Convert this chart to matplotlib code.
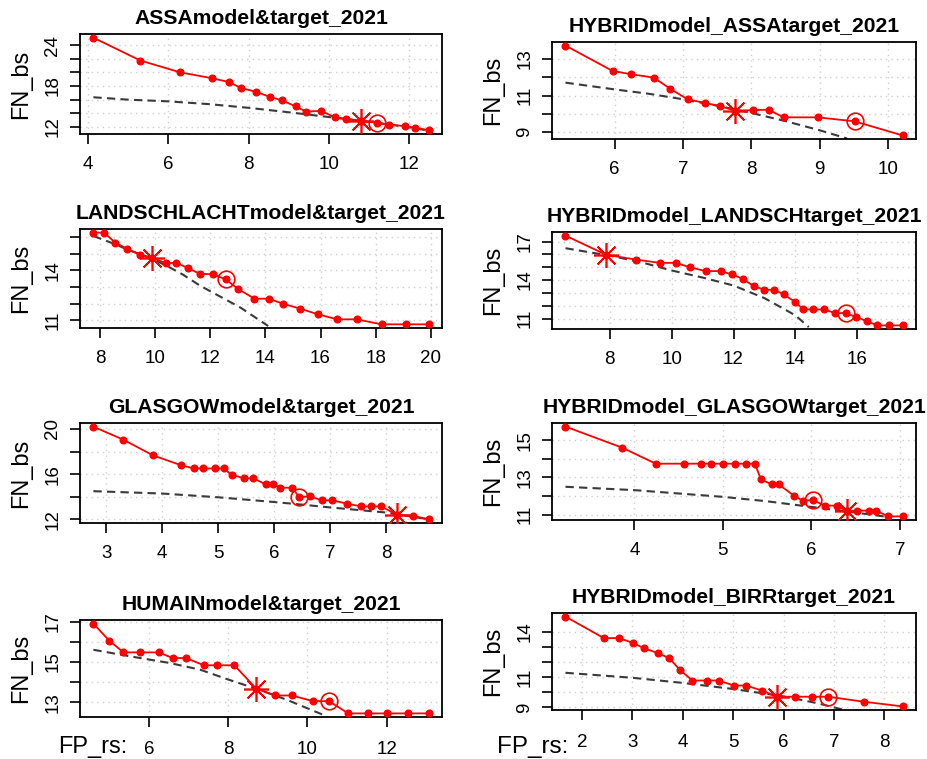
import numpy as np
import matplotlib.pyplot as plt

plt.rcParams['font.family'] = ['Liberation Sans', 'DejaVu Sans']

# ---------- data ----------
# each panel: red curve (FP_rs, FN_bs), dashed reference curve,
# index of the asterisk point and of the circled point

# ASSA model & target
assa_fp = [4.13, 5.30, 6.30, 7.09, 7.50, 7.80, 8.18, 8.54, 8.83, 9.18, 9.43, 9.81,
           10.15, 10.44, 10.80, 11.20, 11.50, 11.90, 12.15, 12.49]
assa_fn = [25.1, 21.75, 20.0, 19.15, 18.6, 17.75, 17.15, 16.4, 15.9, 15.0, 14.25, 14.35,
           13.4, 13.2, 12.9, 12.6, 12.35, 12.1, 11.9, 11.5]
assa_ref_fp = [4.13, 5.0, 6.0, 7.0, 8.0, 9.0, 10.0, 11.0, 12.0, 12.49]
assa_ref_fn = [16.35, 16.0, 15.75, 15.35, 14.8, 14.15, 13.45, 12.75, 11.95, 11.45]
assa_star, assa_circle = 14, 15
assa_xticks = [4, 6, 8, 10, 12]
assa_yticks = [12, 14, 16, 18, 20, 22, 24]
assa_ylabels = [12, 18, 24]

# HYBRID model, ASSA target
hyassa_fp = [5.28, 5.97, 6.24, 6.57, 6.81, 7.07, 7.32, 7.54, 7.76, 8.02, 8.25, 8.47,
             8.97, 9.51, 10.21]
hyassa_fn = [13.74, 12.35, 12.17, 11.99, 11.38, 10.79, 10.6, 10.42, 10.18, 10.2, 10.23,
             9.81, 9.81, 9.59, 8.82]
hyassa_ref_fp = [5.28, 6.0, 6.5, 7.0, 7.5, 8.0, 8.5, 9.0, 9.4]
hyassa_ref_fn = [11.71, 11.34, 11.1, 10.8, 10.45, 10.05, 9.6, 9.1, 8.65]
hyassa_star, hyassa_circle = 8, 13
hyassa_xticks = [6, 7, 8, 9, 10]
hyassa_yticks = [9, 10, 11, 12, 13]
hyassa_ylabels = [9, 11, 13]

# LANDSCHLACHT model & target
land_fp = [7.76, 8.15, 8.55, 8.97, 9.46, 9.90, 10.39, 10.77, 11.20, 11.61, 12.10, 12.56,
           12.99, 13.60, 14.12, 14.63, 15.26, 15.91, 16.60, 17.31, 18.22, 19.10, 19.92]
land_fn = [16.26, 16.26, 15.66, 15.3, 14.92, 14.76, 14.42, 14.46, 14.12, 13.8, 13.76, 13.46,
           12.9, 12.3, 12.3, 12.0, 11.7, 11.36, 11.06, 11.06, 10.76, 10.76, 10.76]
land_ref_fp = [7.76, 8.5, 9.0, 9.9, 10.5, 11.0, 11.65, 12.5, 13.1, 14.1]
land_ref_fn = [16.06, 15.6, 15.25, 14.7, 14.2, 13.75, 13.06, 12.3, 11.76, 10.66]
land_star, land_circle = 5, 11
land_xticks = [8, 10, 12, 14, 16, 18, 20]
land_yticks = [11, 12, 13, 14, 15, 16]
land_ylabels = [11, 14]

# HYBRID model, LANDSCH target
hyland_fp = [6.57, 7.89, 8.84, 9.62, 10.13, 10.59, 11.10, 11.59, 11.95, 12.30, 12.65, 13.00,
             13.32, 13.62, 14.00, 14.25, 14.56, 14.92, 15.28, 15.62, 15.97, 16.32, 16.65,
             17.03, 17.46]
hyland_fn = [17.46, 15.96, 15.6, 15.34, 15.34, 15.0, 14.7, 14.7, 14.44, 14.1, 13.53, 13.25,
             13.25, 12.89, 12.29, 11.72, 11.72, 11.72, 11.44, 11.44, 11.13, 10.79, 10.48,
             10.48, 10.48]
hyland_ref_fp = [6.57, 8.0, 9.0, 10.0, 11.0, 12.0, 13.0, 14.0, 14.43]
hyland_ref_fn = [16.48, 15.9, 15.4, 14.75, 14.2, 13.58, 12.6, 11.26, 10.35]
hyland_star, hyland_circle = 1, 19
hyland_xticks = [8, 10, 12, 14, 16]
hyland_yticks = [11, 12, 13, 14, 15, 16, 17]
hyland_ylabels = [11, 14, 17]

# GLASGOW model & target
glas_fp = [2.77, 3.30, 3.84, 4.33, 4.57, 4.73, 4.94, 5.10, 5.24, 5.47, 5.63, 5.85, 5.98,
           6.11, 6.32, 6.45, 6.64, 6.85, 7.03, 7.31, 7.55, 7.73, 7.91, 8.20, 8.48, 8.76]
glas_fn = [20.2, 19.06, 17.65, 16.8, 16.5, 16.5, 16.5, 16.5, 15.93, 15.63, 15.63, 15.09,
           15.09, 14.8, 14.8, 13.95, 14.04, 13.68, 13.68, 13.38, 13.14, 13.14, 13.14, 12.39,
           12.3, 12.0]
glas_ref_fp = [2.77, 4.0, 5.0, 6.0, 6.5, 7.0, 8.0, 8.76]
glas_ref_fn = [14.49, 14.28, 13.95, 13.53, 13.3, 13.05, 12.6, 12.0]
glas_star, glas_circle = 23, 15
glas_xticks = [3, 4, 5, 6, 7, 8, 9]
glas_yticks = [12, 14, 16, 18, 20]
glas_ylabels = [12, 16, 20]

# HYBRID model, GLASGOW target
hyglas_fp = [3.22, 3.86, 4.24, 4.56, 4.75, 4.87, 5.00, 5.14, 5.26, 5.36, 5.43, 5.55, 5.63,
             5.80, 5.90, 6.02, 6.15, 6.29, 6.40, 6.52, 6.65, 6.73, 6.87, 7.03]
hyglas_fn = [15.73, 14.6, 13.74, 13.74, 13.74, 13.74, 13.74, 13.74, 13.74, 13.74, 12.9,
             12.63, 12.63, 12.03, 11.76, 11.78, 11.49, 11.49, 11.18, 11.22, 11.22, 11.22,
             10.91, 10.91]
hyglas_ref_fp = [3.22, 4.0, 5.0, 5.5, 6.0, 6.4, 6.88]
hyglas_ref_fn = [12.5, 12.32, 11.96, 11.72, 11.42, 11.18, 10.87]
hyglas_star, hyglas_circle = 18, 15
hyglas_xticks = [4, 5, 6, 7]
hyglas_yticks = [11, 12, 13, 14, 15]
hyglas_ylabels = [11, 13, 15]

# HUMAIN model & target
hum_fp = [4.59, 4.99, 5.35, 5.76, 6.24, 6.59, 6.93, 7.38, 7.71, 8.15, 8.71, 9.19, 9.60,
          10.14, 10.54, 11.03, 11.52, 12.02, 12.53, 13.06]
hum_fn = [16.9, 16.05, 15.47, 15.47, 15.47, 15.19, 15.19, 14.83, 14.83, 14.83, 13.66, 13.33,
          13.33, 13.05, 13.05, 12.44, 12.44, 12.44, 12.44, 12.44]
hum_ref_fp = [4.59, 5.5, 6.5, 7.29, 8.0, 8.71, 9.5, 10.42]
hum_ref_fn = [15.6, 15.28, 14.95, 14.61, 14.12, 13.66, 13.1, 12.35]
hum_star, hum_circle = 10, 14
hum_xticks = [6, 8, 10, 12]
hum_yticks = [13, 14, 15, 16, 17]
hum_ylabels = [13, 15, 17]

# HYBRID model, BIRR target
birr_fp = [1.67, 2.43, 2.74, 3.02, 3.23, 3.51, 3.73, 3.95, 4.19, 4.47, 4.71, 5.01, 5.25,
           5.58, 5.86, 6.22, 6.56, 6.88, 7.59, 8.36]
birr_fn = [15.0, 13.58, 13.58, 13.24, 12.91, 12.58, 12.25, 11.45, 10.78, 10.78, 10.78,
           10.45, 10.45, 10.11, 9.71, 9.71, 9.71, 9.71, 9.38, 9.07]
birr_ref_fp = [1.67, 3.0, 4.0, 5.0, 6.0, 6.66, 7.2]
birr_ref_fn = [11.29, 10.96, 10.62, 10.22, 9.73, 9.29, 8.84]
birr_star, birr_circle = 14, 17
birr_xticks = [2, 3, 4, 5, 6, 7, 8]
birr_yticks = [9, 10, 11, 12, 13, 14]
birr_ylabels = [9, 11, 14]

titles = ["ASSAmodel&target_2021", "HYBRIDmodel_ASSAtarget_2021",
          "LANDSCHLACHTmodel&target_2021", "HYBRIDmodel_LANDSCHtarget_2021",
          "GLASGOWmodel&target_2021", "HYBRIDmodel_GLASGOWtarget_2021",
          "HUMAINmodel&target_2021", "HYBRIDmodel_BIRRtarget_2021"]

panels = [
    (assa_fp, assa_fn, assa_ref_fp, assa_ref_fn, assa_star, assa_circle,
     assa_xticks, assa_yticks, assa_ylabels),
    (hyassa_fp, hyassa_fn, hyassa_ref_fp, hyassa_ref_fn, hyassa_star, hyassa_circle,
     hyassa_xticks, hyassa_yticks, hyassa_ylabels),
    (land_fp, land_fn, land_ref_fp, land_ref_fn, land_star, land_circle,
     land_xticks, land_yticks, land_ylabels),
    (hyland_fp, hyland_fn, hyland_ref_fp, hyland_ref_fn, hyland_star, hyland_circle,
     hyland_xticks, hyland_yticks, hyland_ylabels),
    (glas_fp, glas_fn, glas_ref_fp, glas_ref_fn, glas_star, glas_circle,
     glas_xticks, glas_yticks, glas_ylabels),
    (hyglas_fp, hyglas_fn, hyglas_ref_fp, hyglas_ref_fn, hyglas_star, hyglas_circle,
     hyglas_xticks, hyglas_yticks, hyglas_ylabels),
    (hum_fp, hum_fn, hum_ref_fp, hum_ref_fn, hum_star, hum_circle,
     hum_xticks, hum_yticks, hum_ylabels),
    (birr_fp, birr_fn, birr_ref_fp, birr_ref_fn, birr_star, birr_circle,
     birr_xticks, birr_yticks, birr_ylabels),
]

# ---------- layout (plot boxes in pixels: left, right, top, bottom) ----------
W, H = 928, 759
boxes = [(80, 442, 34, 134), (552, 916, 42, 139),
         (80, 442, 229, 328), (552, 916, 232, 329),
         (80, 442, 423, 523), (552, 916, 423, 520),
         (80, 442, 620, 717), (552, 916, 613, 710)]

fig = plt.figure(figsize=(W / 100, H / 100), dpi=100)

for i, (fp, fn, rfp, rfn, istar, icirc, xt, yt, ylab) in enumerate(panels):
    l, r, t, b = boxes[i]
    ax = fig.add_axes([l / W, 1 - b / H, (r - l) / W, (b - t) / H])

    # R-like dotted grid at the tick positions
    ax.set_xticks(xt)
    ax.set_yticks(yt)
    ax.grid(True, color='#d0d0d0', linestyle=(0, (1, 3)), linewidth=1.0)
    ax.set_axisbelow(True)

    ax.plot(rfp, rfn, color='#3a3a3a', linestyle=(0, (4, 2.5)), linewidth=1.5, zorder=2)
    ax.plot(fp, fn, color='red', linewidth=1.3, marker='o', markersize=4.8, zorder=3)
    ax.plot(fp[istar], fn[istar], linestyle='none', marker=(8, 2, 0), markersize=18,
            markeredgecolor='red', markeredgewidth=1.2, zorder=4)
    ax.plot(fp[icirc], fn[icirc], linestyle='none', marker='o', markersize=12,
            markerfacecolor='none', markeredgecolor='red', markeredgewidth=1.2, zorder=4)

    # R default: 4% extra range on each side
    xr = max(fp) - min(fp)
    yr = max(fn) - min(fn)
    ax.set_xlim(min(fp) - 0.04 * xr, max(fp) + 0.04 * xr)
    ax.set_ylim(min(fn) - 0.04 * yr, max(fn) + 0.04 * yr)

    ax.set_xticklabels([str(v) for v in xt])
    ax.set_yticklabels([str(v) if v in ylab else '' for v in yt])
    for lab in ax.get_yticklabels():
        lab.set_rotation(90)
        lab.set_va('center')

    ax.tick_params(axis='both', direction='out', length=7.5, width=1.2,
                   labelsize=13.5, colors='black')
    ax.tick_params(axis='x', pad=8 if i < 6 else 10)
    ax.tick_params(axis='y', pad=6)
    for s in ax.spines.values():
        s.set_linewidth(1.3)

    ax.set_title(titles[i], fontsize=15.2, fontweight='bold', pad=7)
    ax.set_ylabel("FN_bs", fontsize=17, labelpad=9)

# x label of the bottom row, written at the left of the tick labels
fig.text(58 / W, 1 - 747 / H, "FP_rs:", fontsize=17, va='center', ha='left')
fig.text(497 / W, 1 - 747 / H, "FP_rs:", fontsize=17.5, va='center', ha='left')

fig.savefig("out.png", dpi=100)
